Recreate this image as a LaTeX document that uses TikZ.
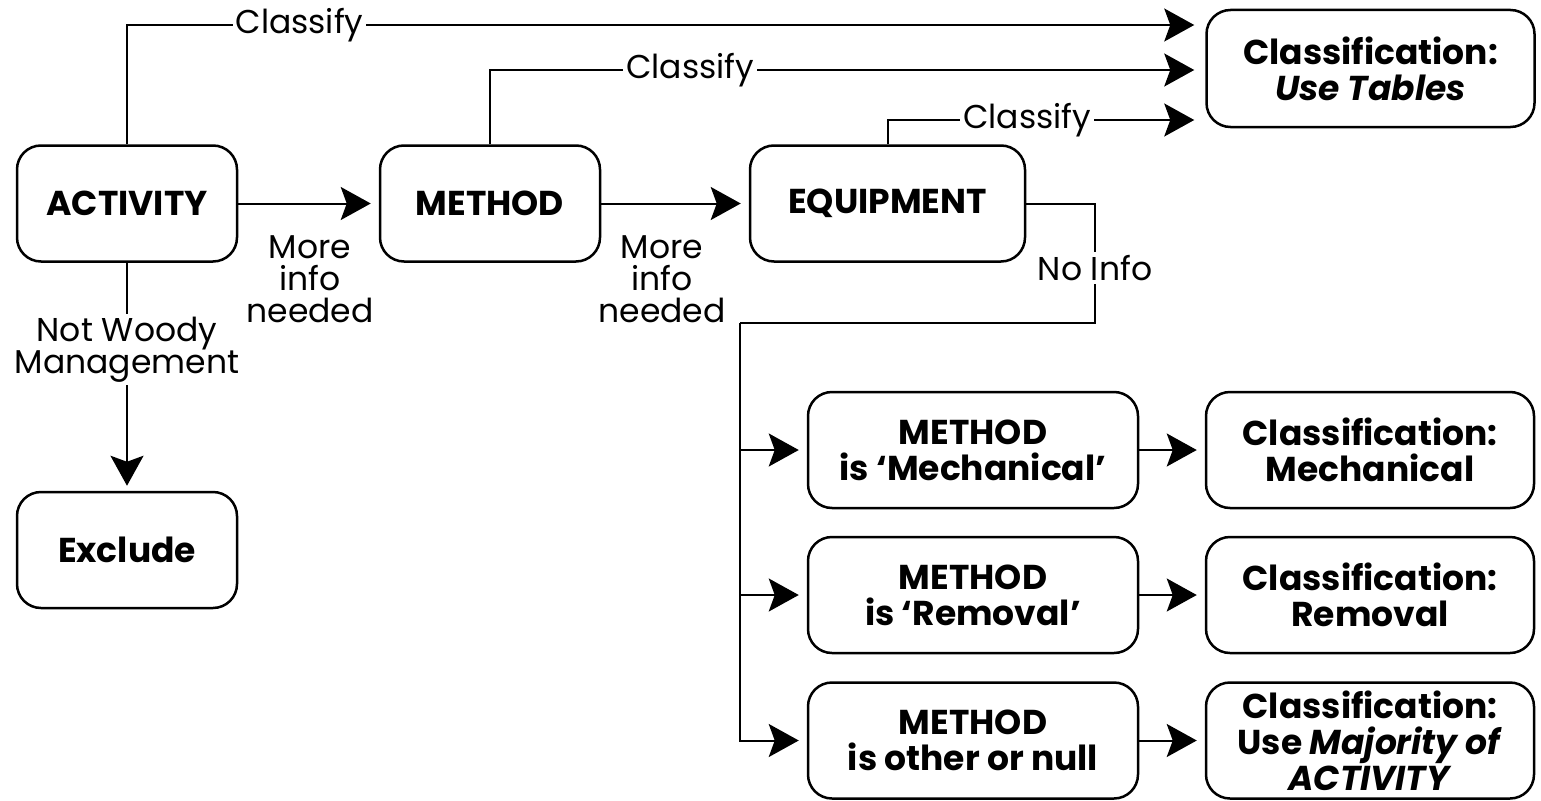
\documentclass[tikz,border=0pt]{standalone}
\usepackage{fontspec}
\setmainfont{Poppins}
\usetikzlibrary{arrows.meta}
\begin{document}
\begin{tikzpicture}[x=1pt,y=-1pt,
 box/.style={draw, line width=2.5pt, rounded corners=24pt, minimum height=116pt, align=center, font=\fontsize{34.5}{36}\selectfont\bfseries, inner sep=0pt},
 conn/.style={line width=2pt},
 arr/.style={conn, -{Stealth[length=30pt,width=33pt,inset=6pt]}, shorten >=8pt},
 lbl/.style={fill=white, inner sep=3pt, font=\fontsize{33}{32}\selectfont, align=center}]
\useasboundingbox (0,0) rectangle (1541,800);
% boxes
\node[box, minimum width=220pt] (act) at (127,203.5) {ACTIVITY};
\node[box, minimum width=220pt] (met) at (490,203.5) {METHOD};
\node[box, minimum width=275pt] (equ) at (887.5,203.5) {EQUIPMENT};
\node[box, minimum width=328pt, minimum height=117pt] (tab) at (1370.5,68.5) {Classification:\\\textit{Use Tables}};
\node[box, minimum width=220pt] (exc) at (127,550) {Exclude};
\node[box, minimum width=330pt] (m1) at (973,450) {METHOD\\is ‘Mechanical’};
\node[box, minimum width=328pt] (c1) at (1370,450) {Classification:\\Mechanical};
\node[box, minimum width=330pt] (m2) at (973,595) {METHOD\\is ‘Removal’};
\node[box, minimum width=328pt] (c2) at (1370,595) {Classification:\\Removal};
\node[box, minimum width=330pt] (m3) at (973,740.5) {METHOD\\is other or null};
\node[box, minimum width=328pt] (c3) at (1370,740.5) {Classification:\\Use \textit{Majority of}\\\textit{ACTIVITY}};
% top classify arrows
\draw[arr, shorten >=11pt] (act.north) |- node[lbl,pos=0.58]{Classify} ([yshift=43.5pt]tab.west);
\draw[arr, shorten >=11pt] (met.north) |- node[lbl,pos=0.64]{Classify} ([yshift=-1.5pt]tab.west);
\draw[arr, shorten >=11pt] (equ.north) |- node[lbl,pos=0.72]{Classify} ([yshift=-51.5pt]tab.west);
% main flow
\draw[arr] (act) -- (met);
\draw[arr] (met) -- (equ);
\node[lbl, fill=none] (lb1) at (310,279) {More\\info\\needed};
\node[lbl, fill=none] (lb2) at (662,279) {More\\info\\needed};
\draw[arr, shorten >=5pt] (act.south) -- node[lbl,pos=0.38]{Not Woody\\Management} (exc.north);
% no info branch
\coordinate (j1) at (1095,323);
\coordinate (j2) at (740,323);
\draw[conn] (equ.east) -| node[lbl,pos=0.77]{No Info} (j1) -- (j2);
\draw[arr] (j2) |- (m1.west);
\draw[arr] (j2) |- (m2.west);
\draw[arr] (j2) |- (m3.west);
\draw[arr] (m1) -- (c1);
\draw[arr] (m2) -- (c2);
\draw[arr] (m3) -- (c3);
\end{tikzpicture}
\end{document}
